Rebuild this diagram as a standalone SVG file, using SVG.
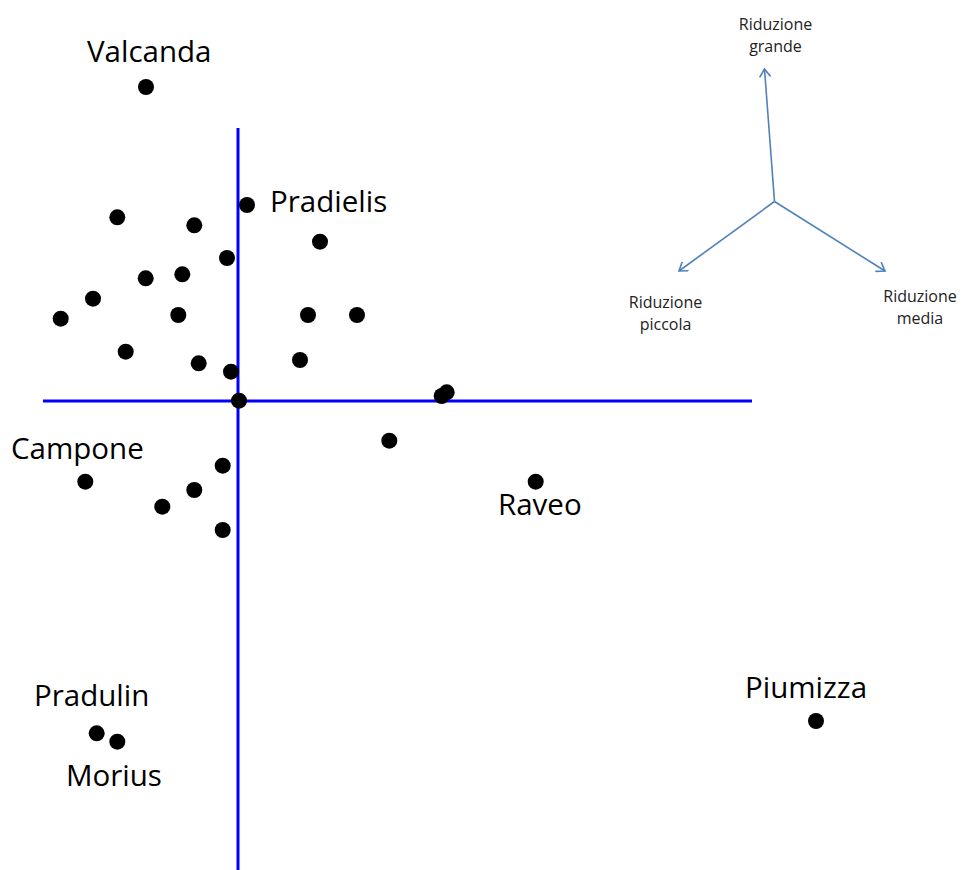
<svg xmlns="http://www.w3.org/2000/svg" width="962" height="870" viewBox="0 0 962 870">
<style>
.pt{fill:#000}
.lbl{font-family:"Open Sans","Liberation Sans",sans-serif;font-size:29.5px;fill:#000}
.sm{font-family:"Open Sans","Liberation Sans",sans-serif;font-size:16px;fill:#222;text-anchor:middle}
.ax{stroke:#0000ff;stroke-width:3;fill:none}
.arr{stroke:#4f81bd;stroke-width:1.6;fill:none;marker-end:url(#open)}
</style>
<defs>
<marker id="open" viewBox="-10 -6 12 12" refX="0" refY="0" markerWidth="12" markerHeight="12" markerUnits="userSpaceOnUse" orient="auto">
<path d="M-8,-5.5 L0,0 L-8,5.5" fill="none" stroke="#4f81bd" stroke-width="1.6"/>
</marker>
</defs>
<rect width="962" height="870" fill="#fff"/>
<g id="axes">
<line class="ax" x1="238" y1="128" x2="238" y2="870"/>
<line class="ax" x1="43" y1="401" x2="752" y2="401"/>
</g>
<g id="connectors">
<line class="arr" x1="774.5" y1="201.5" x2="764.5" y2="69"/>
<line class="arr" x1="774.5" y1="201.5" x2="679" y2="271"/>
<line class="arr" x1="774.5" y1="201.5" x2="885" y2="271"/>
</g>
<g id="legend">
<text class="sm" x="775.5" y="30">Riduzione</text>
<text class="sm" x="775.5" y="52">grande</text>
<text class="sm" x="665.5" y="308">Riduzione</text>
<text class="sm" x="665.5" y="330">piccola</text>
<text class="sm" x="920" y="302">Riduzione</text>
<text class="sm" x="920" y="324">media</text>
</g>
<g id="valcanda"><circle class="pt" cx="146" cy="87" r="8"/><text class="lbl" x="87" y="62">Valcanda</text></g>
<g id="pradielis"><circle class="pt" cx="247" cy="205" r="8"/><text class="lbl" x="270" y="212">Pradielis</text></g>
<g id="campone"><circle class="pt" cx="85.3" cy="481.7" r="8"/><text class="lbl" x="11" y="459">Campone</text></g>
<g id="raveo"><circle class="pt" cx="535.7" cy="481.7" r="8"/><text class="lbl" x="498" y="515">Raveo</text></g>
<g id="piumizza"><circle class="pt" cx="816" cy="721" r="8"/><text class="lbl" x="745" y="698">Piumizza</text></g>
<g id="pradulin"><circle class="pt" cx="96.7" cy="733.3" r="8"/><text class="lbl" x="34" y="706">Pradulin</text></g>
<g id="morius"><circle class="pt" cx="117.3" cy="741.7" r="8"/><text class="lbl" x="66" y="786">Morius</text></g>
<g id="points">
<circle class="pt" cx="117.3" cy="217.3" r="8"/>
<circle class="pt" cx="194.3" cy="225.3" r="8"/>
<circle class="pt" cx="320" cy="241.7" r="8"/>
<circle class="pt" cx="227" cy="258" r="8"/>
<circle class="pt" cx="145.7" cy="278.3" r="8"/>
<circle class="pt" cx="182.3" cy="274.3" r="8"/>
<circle class="pt" cx="93" cy="298.7" r="8"/>
<circle class="pt" cx="60.7" cy="318.7" r="8"/>
<circle class="pt" cx="178.3" cy="315" r="8"/>
<circle class="pt" cx="308" cy="315" r="8"/>
<circle class="pt" cx="357" cy="315" r="8"/>
<circle class="pt" cx="125.7" cy="351.7" r="8"/>
<circle class="pt" cx="198.7" cy="363.3" r="8"/>
<circle class="pt" cx="231" cy="371.7" r="8"/>
<circle class="pt" cx="300" cy="360" r="8"/>
<circle class="pt" cx="239" cy="400.7" r="8"/>
<circle class="pt" cx="441.7" cy="396" r="8"/>
<circle class="pt" cx="446.7" cy="392.3" r="8"/>
<circle class="pt" cx="389.3" cy="440.7" r="8"/>
<circle class="pt" cx="222.7" cy="465.7" r="8"/>
<circle class="pt" cx="194.3" cy="490" r="8"/>
<circle class="pt" cx="162.3" cy="506.7" r="8"/>
<circle class="pt" cx="222.7" cy="530" r="8"/>
</g>
</svg>
